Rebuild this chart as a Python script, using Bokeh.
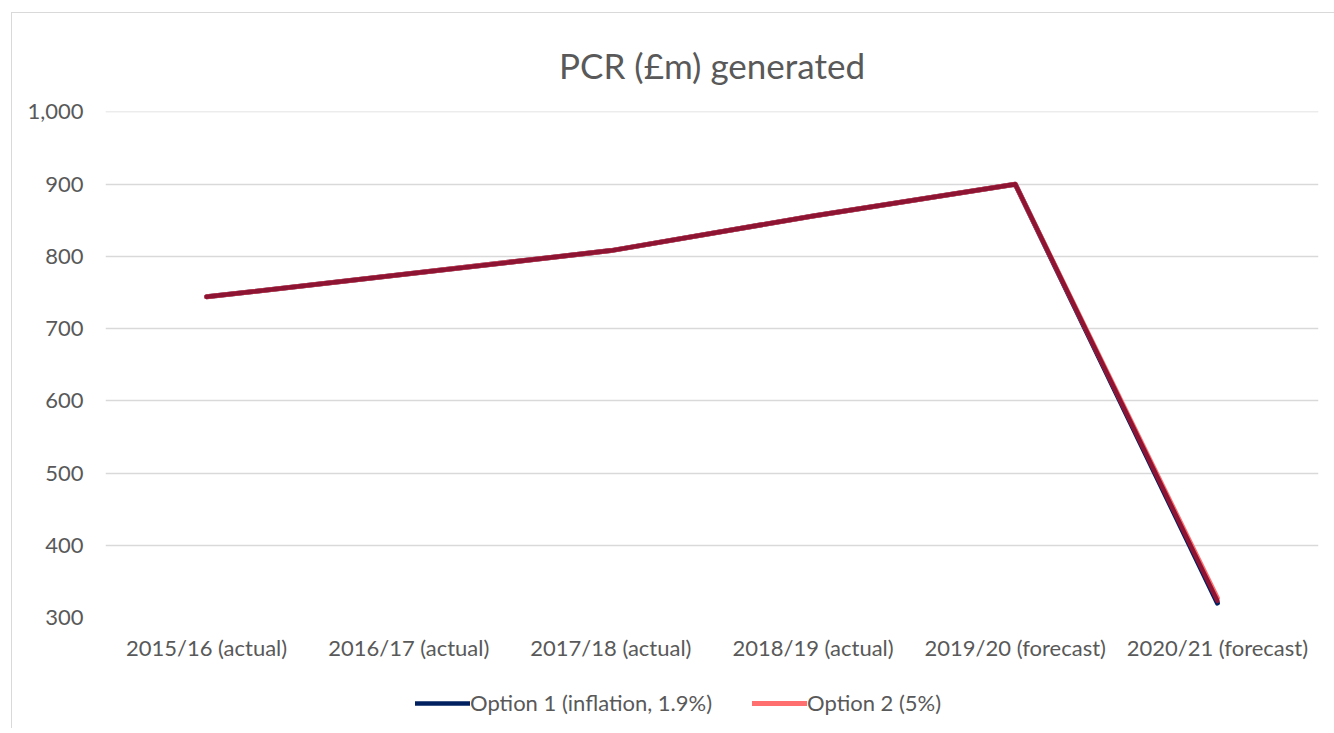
from bokeh.plotting import figure
from bokeh.layouts import column
from bokeh.models import FactorRange, Range1d, Legend, LegendItem, NumeralTickFormatter, FixedTicker
from bokeh.embed import file_html
from bokeh.resources import INLINE

years = ["2015/16 (actual)", "2016/17 (actual)", "2017/18 (actual)",
         "2018/19 (actual)", "2019/20 (forecast)", "2020/21 (forecast)"]
option1 = [744, 776, 808, 856, 900, 320]
option2 = [744, 776, 808, 856, 900, 327]
overlap = [744, 776, 808, 856, 900, 323]
y_ticks = [300, 400, 500, 600, 700, 800, 900, 1000]

FONT = "Lato"
GREY = "#595959"
NAVY = "#002060"
SALMON = "#ff6f6f"
MAROON = "#8e1433"

p = figure(width=1322, height=670, x_range=FactorRange(*years, range_padding=0),
           y_range=Range1d(300, 1000.6), output_backend="svg", toolbar_location=None,
           title="PCR (£m) generated")
p.min_border_left = 93
p.min_border_right = 16
p.min_border_top = 98
p.min_border_bottom = 66
p.outline_line_color = None

p.title.align = "center"
p.title.text_font = FONT
p.title.text_font_size = "35px"
p.title.text_font_style = "normal"
p.title.text_color = GREY
p.title.standoff = 52

p.xgrid.grid_line_color = None
p.ygrid.grid_line_color = "#d9d9d9"
p.ygrid.grid_line_width = 1.5
p.yaxis.ticker = FixedTicker(ticks=y_ticks)
p.yaxis.formatter = NumeralTickFormatter(format="0,0")

for ax in (p.xaxis, p.yaxis):
    ax.axis_line_color = None
    ax.major_tick_line_color = None
    ax.minor_tick_line_color = None
    ax.major_tick_out = 0
    ax.major_tick_in = 0
    ax.minor_tick_out = 0
    ax.major_label_text_font = FONT
    ax.major_label_text_font_size = "22px"
    ax.major_label_text_color = GREY
p.yaxis.major_label_standoff = 22
p.xaxis.major_label_standoff = 16

p.line(years, option1, line_color=NAVY, line_width=5, line_cap="round", line_join="round")
p.line(years, option2, line_color=SALMON, line_width=5, line_cap="round", line_join="round")
p.line(years, overlap, line_color=MAROON, line_width=4.5, line_cap="round", line_join="round")

# legend strip below the chart (same series, drawn outside its visible range)
lg = figure(width=1322, height=45, x_range=FactorRange(*years, range_padding=0),
            y_range=Range1d(0, 1), output_backend="svg", toolbar_location=None,
            x_axis_location=None, y_axis_location=None)
lg.min_border_left = 0
lg.min_border_right = 0
lg.min_border_top = 0
lg.min_border_bottom = 0
lg.outline_line_color = None
lg.xgrid.grid_line_color = None
lg.ygrid.grid_line_color = None
l1 = lg.line(years, option1, line_color=NAVY, line_width=4.5, line_cap="round")
l2 = lg.line(years, option2, line_color=SALMON, line_width=5, line_cap="round")

legend = Legend(items=[LegendItem(label="Option 1 (inflation, 1.9%)", renderers=[l1]),
                       LegendItem(label="Option 2 (5%)", renderers=[l2])],
                orientation="horizontal", location=(310, 12),
                label_text_font=FONT, label_text_font_size="22px", label_text_color=GREY,
                glyph_width=55, glyph_height=24, label_standoff=0, spacing=40,
                border_line_color=None, background_fill_alpha=0, padding=0, margin=0)
lg.add_layout(legend, "center")

layout = column(p, lg, spacing=0)
layout.styles = {"margin-left": "11px", "margin-top": "12px",
                 "border-left": "1px solid #d9d9d9", "border-top": "1px solid #d9d9d9"}

open("out.html", "w").write(file_html(layout, INLINE))
